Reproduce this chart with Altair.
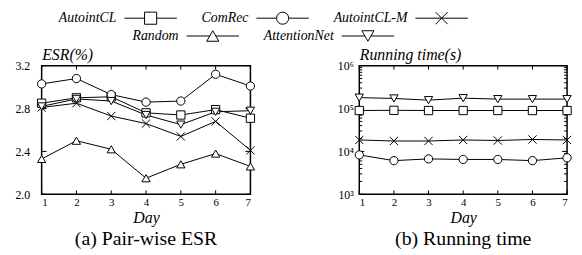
import altair as alt
import pandas as pd

FONT = "Liberation Serif"

days = [1, 2, 3, 4, 5, 6, 7]
series = ["AutointCL", "ComRec", "AutointCL-M", "Random", "AttentionNet"]

esr_autointcl = [2.85, 2.90, 2.91, 2.76, 2.74, 2.79, 2.71]
esr_comrec = [3.03, 3.08, 2.93, 2.86, 2.87, 3.12, 3.01]
esr_autointcl_m = [2.81, 2.85, 2.73, 2.66, 2.54, 2.68, 2.41]
esr_random = [2.33, 2.50, 2.42, 2.15, 2.28, 2.38, 2.26]
esr_attentionnet = [2.82, 2.89, 2.87, 2.74, 2.65, 2.77, 2.78]

time_autointcl = [9.0e4, 9.1e4, 9.0e4, 9.0e4, 9.0e4, 9.0e4, 9.0e4]
time_comrec = [8.3e3, 6.1e3, 6.7e3, 6.5e3, 6.5e3, 6.1e3, 7.1e3]
time_autointcl_m = [1.85e4, 1.75e4, 1.75e4, 1.85e4, 1.8e4, 1.9e4, 1.85e4]
time_attentionnet = [1.80e5, 1.72e5, 1.57e5, 1.75e5, 1.66e5, 1.66e5, 1.66e5]

esr_ticks = [2.0, 2.4, 2.8, 3.2]
time_ticks = [1e3, 1e4, 1e5, 1e6]
time_minor = [k * 10 ** e for e in (3, 4, 5) for k in range(2, 10)]

esr_rows = []
for name, vals in zip(series, [esr_autointcl, esr_comrec, esr_autointcl_m, esr_random, esr_attentionnet]):
    for d, v in zip(days, vals):
        esr_rows.append({"series": name, "day": d, "value": v})
esr_df = pd.DataFrame(esr_rows)

time_rows = []
for name, vals in zip(["AutointCL", "ComRec", "AutointCL-M", "AttentionNet"],
                      [time_autointcl, time_comrec, time_autointcl_m, time_attentionnet]):
    for d, v in zip(days, vals):
        time_rows.append({"series": name, "day": d, "value": v})
time_df = pd.DataFrame(time_rows)

shape_scale = alt.Scale(domain=series,
                        range=["square", "circle", "M-1,-1L1,1M-1,1L1,-1", "triangle-up", "triangle-down"])

W1, W2, H = 211, 210, 130
frame = alt.ViewBackground(stroke="black", strokeWidth=1.5, fill="white")


def panel(df, yscale, ytitle, W, caption, yaxis_extra, major, minor=None):
    x = alt.X("day:Q", scale=alt.Scale(domain=[1, 7], nice=False, zero=False),
              axis=alt.Axis(values=days, title="Day", ticks=False, domain=False, grid=False,
                            labelPadding=2, labelFontSize=11, format="d", titlePadding=2))
    y = alt.Y("value:Q", scale=yscale,
              axis=alt.Axis(title=ytitle, ticks=False, domain=False, grid=False,
                            titleAngle=0, titleAlign="left", titleX=0, titleY=-6,
                            titleBaseline="alphabetic", **yaxis_extra))
    base = alt.Chart(df)
    lines = base.mark_line(color="black", strokeWidth=1).encode(x=x, y=y, detail="series:N", order="day:Q")
    pts = base.mark_point(size=70, fill="white", fillOpacity=1, stroke="black", strokeWidth=1, opacity=1).encode(
        x=x, y=y, shape=alt.Shape("series:N", scale=shape_scale, legend=None))
    xt = alt.Chart(pd.DataFrame({"day": days}))
    xb = xt.mark_rule(color="black", strokeWidth=1).encode(x=x, y=alt.value(H), y2=alt.value(H - 4))
    xtop = xt.mark_rule(color="black", strokeWidth=1).encode(x=x, y=alt.value(0), y2=alt.value(4))
    yt = alt.Chart(pd.DataFrame({"value": major}))
    yl = yt.mark_rule(color="black", strokeWidth=1).encode(y=y, x=alt.value(0), x2=alt.value(5))
    yr = yt.mark_rule(color="black", strokeWidth=1).encode(y=y, x=alt.value(W - 5), x2=alt.value(W))
    layers = [xb, xtop, yl, yr]
    if minor is not None:
        ym = alt.Chart(pd.DataFrame({"value": minor}))
        layers.append(ym.mark_rule(color="black", strokeWidth=1).encode(y=y, x=alt.value(0), x2=alt.value(3)))
        layers.append(ym.mark_rule(color="black", strokeWidth=1).encode(y=y, x=alt.value(W - 3), x2=alt.value(W)))
    return alt.layer(lines, *layers, pts).properties(
        width=W, height=H, view=frame,
        title=alt.TitleParams(caption, orient="bottom", fontSize=20, font=FONT, fontWeight="normal",
                              color="black", offset=4))


left = panel(esr_df, alt.Scale(domain=[2.0, 3.2], nice=False, zero=False), "ESR(%)", W1,
             "(a) Pair-wise ESR", dict(values=esr_ticks, format=".1f", labelPadding=12), esr_ticks)

right = panel(time_df, alt.Scale(type="log", domain=[1e3, 1e6], nice=False), "Running time(s)", W2,
              "(b) Running time",
              dict(values=time_ticks, labelPadding=6,
                   labelExpr="'10' + (datum.value < 5000 ? '³' : datum.value < 50000 ? '⁴' : datum.value < 500000 ? '⁵' : '⁶')"),
              time_ticks, time_minor)

# ---- legend layout (gnuplot-like key: label, then line sample with marker), rows centred ----
LEG_FS = 14
# approximate Times-Italic advance widths (per 1000 em) for text-width estimation
_w = {"A": 611, "u": 500, "t": 278, "o": 500, "i": 278, "n": 500, "C": 667, "L": 556, "-": 333,
      "M": 833, "R": 611, "e": 444, "c": 444, "m": 722, "a": 500, "d": 500, "N": 667}


def text_w(s):
    return sum(_w.get(ch, 500) for ch in s) * LEG_FS / 1000


LINE_LEN, TXT_GAP, ENTRY_GAP = 53, 8, 25
PLOT_LEFT_PAGE, LEG_CENTER_PAGE = 42, 266
leg_rows_def = [series[:3], series[3:]]
leg_rows = []
for r, names in enumerate(leg_rows_def):
    total = sum(text_w(n) + TXT_GAP + LINE_LEN for n in names) + ENTRY_GAP * (len(names) - 1)
    pos = LEG_CENTER_PAGE - total / 2 - PLOT_LEFT_PAGE
    for n in names:
        anchor = pos + text_w(n) + TXT_GAP
        leg_rows.append({"series": n, "row": r, "anchor": anchor})
        pos = anchor + LINE_LEN + ENTRY_GAP
leg_df = pd.DataFrame(leg_rows)

WL = 530
lx = alt.X("anchor:Q", scale=alt.Scale(domain=[0, WL], range=[0, WL], nice=False, zero=False), axis=None)
ly = alt.Y("row:Q", scale=alt.Scale(domain=[0, 1], range=[7, 25]), axis=None)
lb = alt.Chart(leg_df)
leg_text = lb.mark_text(align="right", baseline="middle", dx=-TXT_GAP, font=FONT, fontStyle="italic",
                        fontSize=LEG_FS, color="black").encode(x=lx, y=ly, text="series:N")
leg_line = lb.mark_rule(color="black", strokeWidth=1, x2Offset=LINE_LEN).encode(x=lx, x2="anchor:Q", y=ly)
leg_pt = lb.mark_point(xOffset=LINE_LEN / 2, size=150, fill="white", fillOpacity=1, stroke="black",
                       strokeWidth=1, opacity=1).encode(
    x=lx, y=ly, shape=alt.Shape("series:N", scale=shape_scale, legend=None))
legend = alt.layer(leg_text, leg_line, leg_pt).properties(width=WL, height=40)

chart = alt.vconcat(
    legend,
    alt.hconcat(left, right, spacing=110, bounds="flush"),
    spacing=15, bounds="flush",
).properties(
    padding={"left": 6, "top": 0, "right": 0, "bottom": 0}
).configure_view(stroke="transparent").configure_axis(
    labelFont=FONT, labelFontSize=12, labelColor="black",
    titleFont=FONT, titleFontSize=16, titleFontStyle="italic", titleFontWeight="normal", titleColor="black"
).configure_scale(continuousPadding=0)

chart.save("out.html", embed_options={"renderer": "svg", "actions": False})
